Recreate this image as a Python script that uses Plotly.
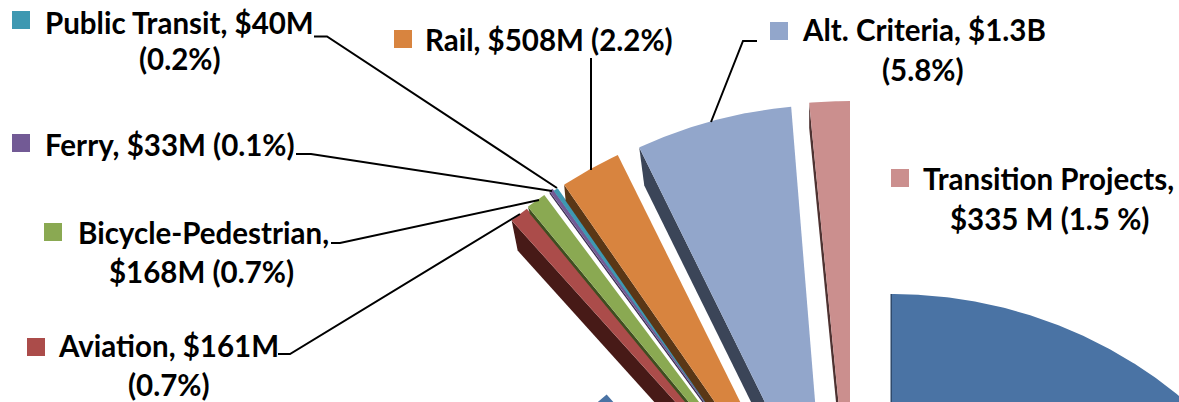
import numpy as np
import plotly.graph_objects as go

# --- data ($M), clockwise from 12 o'clock ---
categories = ["Highway", "Aviation", "Bicycle-Pedestrian", "Ferry", "Public Transit", "Rail", "Alt. Criteria", "Transition Projects"]
values = [20055, 161, 168, 33, 40, 508, 1300, 335]

# --- style ---
top_colors = ["#4A73A4", "#AB4C4A", "#8AA952", "#725A95", "#3E98B1", "#D8843F", "#92A6CB", "#CB8F8E"]
side_colors = ["#2F4A6C", "#471A17", "#3F4F20", "#3A2C50", "#1F5060", "#5A3716", "#3B4558", "#4E3231"]
explode_x = [0, -95, -94, -89, -88, -81.5, -60, -42]
explode_y = [0, -174, -176, -180, -178, -181.5, -189, -193]
apex_shift = [0, 2, 2, -3, -4, -6, -7, 0]
depth_x = [-1.5, 6, 2, 0.5, 0, 1.5, 5, 0]
depth_y = [0, 30, 7, 3, 0, 16, 38, 25]
CX, CY, RX, RY = 892, 713, 439, 419

label_lines = [
    ("Public Transit, $40M", 179.5, 22), ("(0.2%)", 179.5, 58),
    ("Rail, $508M (2.2%)", 549, 39),
    ("Alt. Criteria, $1.3B", 923.5, 29), ("(5.8%)", 923, 69),
    ("Ferry, $33M (0.1%)", 169.5, 144),
    ("Transition Projects,", 1048, 178), ("$335 M (1.5 %)", 1049.5, 218),
    ("Bicycle-Pedestrian,", 203.5, 232), ("$168M (0.7%)", 201.5, 271),
    ("Aviation, $161M", 168, 345), ("(0.7%)", 169, 384),
]
key_x = [27, 44, 12, 12, 394, 770, 891]
key_y = [338, 223, 134, 11, 30, 22, 169]
key_colors = top_colors[1:]
leader_x = [[278, 290, 520], [331, 340, 539], [296, 311, 552], [314, 327, 557], [591, 591], [757, 743, 711]]
leader_y = [[354, 354, 214], [243, 243, 200], [154, 154, 191], [36.5, 36.5, 188], [58, 170], [41, 41, 122]]

total = sum(values)
fracs = np.array(values) / total
ends = np.cumsum(fracs) * 2 * np.pi
starts = ends - fracs * 2 * np.pi

fig = go.Figure()

def point(theta, i):
    return (CX + RX * np.sin(theta) + explode_x[i], CY - RY * np.cos(theta) + explode_y[i])

for i in range(len(values)):
    a0, a1 = starts[i], ends[i]
    ax, ay = CX + explode_x[i] + apex_shift[i], CY + explode_y[i]
    ex, ey = point(a0, i)
    if depth_x[i] or depth_y[i]:
        fx = [ax, ex, ex + depth_x[i], ax + depth_x[i], ax]
        fy = [ay, ey, ey + depth_y[i], ay + depth_y[i], ay]
        fig.add_trace(go.Scatter(x=fx, y=fy, mode="lines", fill="toself", fillcolor=side_colors[i],
                                 line=dict(width=0, color=side_colors[i]), hoverinfo="skip"))
    t = np.linspace(a0, a1, max(4, int((a1 - a0) * 200)))
    px = [point(v, i)[0] for v in t]
    py = [point(v, i)[1] for v in t]
    fig.add_trace(go.Scatter(x=[ax] + px + [ax], y=[ay] + py + [ay], mode="lines", fill="toself",
                             fillcolor=top_colors[i], line=dict(width=0, color=top_colors[i]),
                             name=categories[i], hoverinfo="name"))

for lx, ly in zip(leader_x, leader_y):
    fig.add_trace(go.Scatter(x=lx, y=ly, mode="lines", line=dict(color="black", width=2), hoverinfo="skip"))

for kx, ky, kc in zip(key_x, key_y, key_colors):
    fig.add_shape(type="rect", x0=kx, x1=kx + 18, y0=ky, y1=ky + 18, xref="x", yref="y",
                  fillcolor=kc, line=dict(width=0))

for txt, tx, ty in label_lines:
    fig.add_annotation(x=tx, y=ty, text="<b>%s</b>" % txt, showarrow=False, xanchor="center", yanchor="middle",
                       font=dict(family="Lato", size=29.5, color="black"))

fig.update_layout(
    width=1179, height=402, margin=dict(l=0, r=0, t=0, b=0), showlegend=False,
    paper_bgcolor="white", plot_bgcolor="white",
    xaxis=dict(range=[0, 1179], visible=False, fixedrange=True),
    yaxis=dict(range=[402, 0], visible=False, fixedrange=True),
)
fig.write_html("out.html", config={"displayModeBar": False},
               post_script="document.body.style.margin='0';document.body.style.overflow='hidden';")
